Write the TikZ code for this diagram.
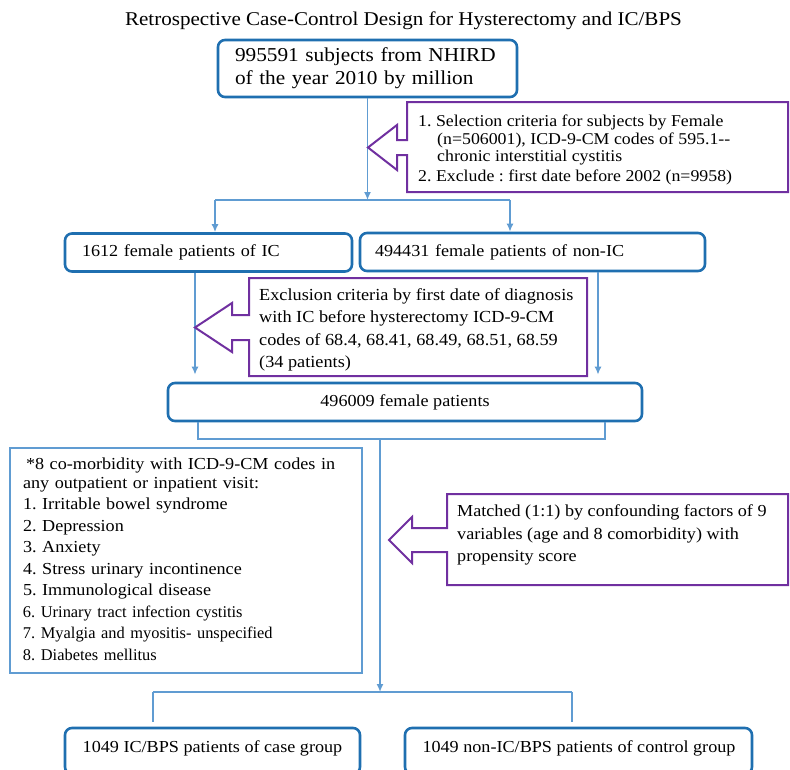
\documentclass[tikz,border=0pt]{standalone}
\usepackage{fontspec}
\setmainfont{Liberation Serif}[FakeStretch=1.08]
\newfontfamily\plainserif{Liberation Serif}
\usetikzlibrary{arrows.meta}
\definecolor{boxblue}{RGB}{31,111,176}
\definecolor{linkblue}{RGB}{96,156,210}
\definecolor{listblue}{RGB}{96,156,210}
\definecolor{callpurple}{RGB}{112,48,160}
\frenchspacing
\begin{document}
\begin{tikzpicture}[x=1pt,y=-1pt,
  rbox/.style={draw=boxblue, line width=2.6pt, rounded corners=7pt, fill=white, inner ysep=0pt},
  conn/.style={draw=linkblue, line width=1.8pt},
  arr/.style={conn, -{Latex[length=8pt,width=7pt]}},
  callout/.style={draw=callpurple, line width=2pt, line join=miter, fill=white},
  txt/.style={inner sep=0pt, align=left},
  body/.style={font=\fontsize{16.8}{22}\selectfont\frenchspacing},
]
\useasboundingbox[fill=white] (0,0) rectangle (790,769);

% title
\node[inner sep=0pt, font=\fontsize{19.5}{23}\selectfont] (title) at (403.5,21) {Retrospective Case-Control Design for Hysterectomy and IC/BPS};

% connector points
\coordinate (s1) at (367.5,200);
\coordinate (s1l) at (215,200);
\coordinate (s1r) at (510,200);
\coordinate (b1x) at (195,0);
\coordinate (b2x) at (598,0);
\coordinate (u1) at (198,439);
\coordinate (u2) at (605,439);
\coordinate (t1) at (380,439);
\coordinate (s2) at (380,692);
\coordinate (s2l) at (153,692);
\coordinate (s2r) at (572,692);

% boxes
\node[rbox, minimum width=299pt, minimum height=57pt, text width=265pt, inner xsep=17pt, align=left, font=\fontsize{19.7}{23}\selectfont\frenchspacing] (A) at (367.5,68.5) {\strut 995591 subjects from NHIRD\\of the year 2010 by million\strut};

\node[rbox, body, minimum width=287pt, minimum height=38pt, text width=253pt, inner xsep=17pt, align=left] (B1) at (208.5,252.5) {1612 female patients of IC};
\node[rbox, body, minimum width=345pt, minimum height=38pt, text width=315pt, inner xsep=15pt, align=left] (B2) at (532.5,252) {494431 female patients of non-IC};

\node[rbox, body, minimum width=474pt, minimum height=38pt] (C) at (405,402) {496009 female patients};

\node[draw=listblue, line width=2pt, minimum width=352pt, minimum height=225pt, text width=326pt, inner xsep=13pt, inner ysep=0pt, align=left, font=\fontsize{16.8}{21.5}\selectfont\frenchspacing] (D) at (186,560.5) {\strut\hspace*{3pt}*8 co-morbidity with ICD-9-CM codes in\\[-2.5pt]
any outpatient or inpatient visit:\\
1. Irritable bowel syndrome\\
2. Depression\\
3. Anxiety\\
4. Stress urinary incontinence\\
5. Immunological disease\\
\plainserif\fontsize{16.4}{21.5}\selectfont 6. Urinary tract infection cystitis\\
7. Myalgia and myositis- unspecified\\
8. Diabetes mellitus\strut};

\node[rbox, minimum width=295pt, minimum height=46pt] (E1) at (212.5,751) {};
\node[txt, body] (E1t) at (212.5,748) {1049 IC/BPS patients of case group};
\node[rbox, minimum width=347pt, minimum height=46pt] (E2) at (578.5,751) {};
\node[txt, body] (E2t) at (579,748) {1049 non-IC/BPS patients of control group};

% connector lines
\draw[arr] (A.south) -- (s1);
\draw[conn] (s1l) -- (s1r);
\draw[arr] (s1l) -- (s1l |- B1.north);
\draw[arr] (s1r) -- (s1r |- B2.north);
\draw[arr, shorten >=7pt] (b1x |- B1.south) -- (b1x |- C.north);
\draw[arr, shorten >=7pt] (b2x |- B2.south) -- (b2x |- C.north);
\draw[conn] (u1 |- C.south) -- (u1) -- (u2) -- (u2 |- C.south);
\draw[arr] (t1) -- (s2);
\draw[conn] (s2l) -- (s2r);
\draw[conn, shorten >=5pt] (s2l) -- (s2l |- E1.north);
\draw[conn, shorten >=5pt] (s2r) -- (s2r |- E2.north);

% callouts
\draw[callout] (407,102) -- (788,102) -- (788,192) -- (407,192) -- (407,155) -- (397,155) -- (397,170) -- (368,147.5) -- (397,125) -- (397,140) -- (407,140) -- cycle;
\node[txt, anchor=west, font=\fontsize{16.5}{17.5}\selectfont\frenchspacing] (c1t) at (418,150.5) {\strut 1. Selection criteria for subjects by Female\\
\hspace*{19pt}(n=506001), ICD-9-CM codes of 595.1-{}-\\
\hspace*{19pt}chronic interstitial cystitis\\[2.5pt]
2. Exclude : first date before 2002 (n=9958)\strut};

\draw[callout] (249,278) -- (587,278) -- (587,376) -- (249,376) -- (249,340) -- (232,340) -- (232,352) -- (195,327.5) -- (232,303) -- (232,315) -- (249,315) -- cycle;
\node[txt, anchor=west, font=\fontsize{16.9}{22.3}\selectfont\frenchspacing] (c2t) at (259,329.5) {\strut Exclusion criteria by first date of diagnosis\\
with IC before hysterectomy ICD-9-CM\\
codes of 68.4, 68.41, 68.49, 68.51, 68.59\\
(34 patients)\strut};

\draw[callout] (447,494) -- (788,494) -- (788,585) -- (447,585) -- (447,552) -- (412,552) -- (412,563) -- (389,540) -- (412,517) -- (412,528) -- (447,528) -- cycle;
\node[txt, anchor=west, font=\fontsize{16.8}{22.5}\selectfont\frenchspacing] (c3t) at (457,534.5) {\strut Matched (1:1) by confounding factors of 9\\
variables (age and 8 comorbidity) with\\
propensity score\strut};
\end{tikzpicture}
\end{document}
